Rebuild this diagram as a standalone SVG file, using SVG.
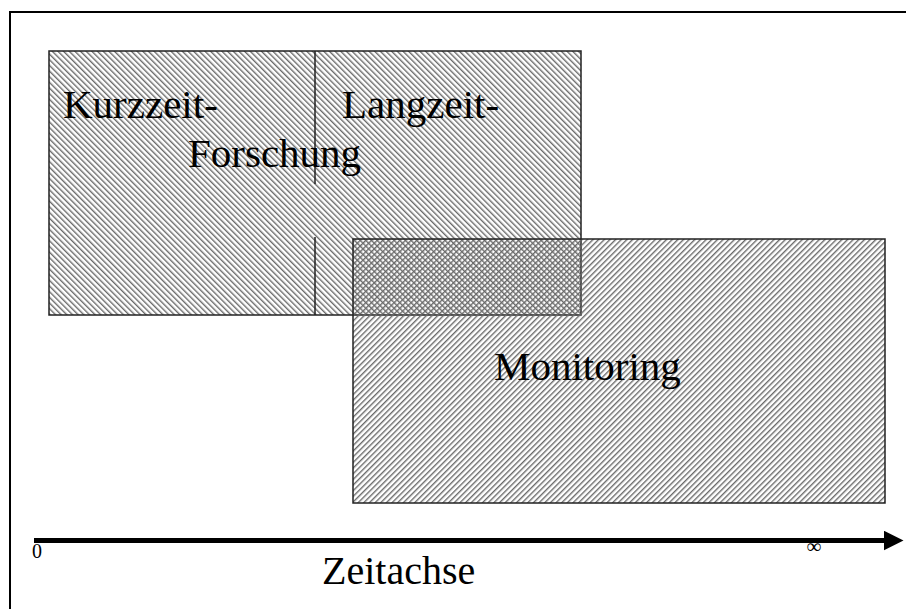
<svg xmlns="http://www.w3.org/2000/svg" width="906" height="609" viewBox="0 0 906 609">
  <defs>
    <pattern id="hatchBack" width="4" height="4" patternUnits="userSpaceOnUse" patternTransform="rotate(-45)">
      <rect x="0" y="0" width="1.4" height="4" fill="#6a6a6a"/>
    </pattern>
    <pattern id="hatchFwd" width="4" height="4" patternUnits="userSpaceOnUse" patternTransform="rotate(45)">
      <rect x="0" y="0" width="1.4" height="4" fill="#6a6a6a"/>
    </pattern>
    <marker id="arrow" markerWidth="4" markerHeight="4" refX="0.5" refY="2" orient="auto" markerUnits="strokeWidth">
      <path d="M0,0 L4,2 L0,4 Z" fill="#000"/>
    </marker>
  </defs>
  <style>
    .box { stroke: #222; stroke-width: 1.5; }
    .lbl { font-family: "Liberation Serif", "Times New Roman", serif; fill: #000; }
  </style>
  <rect x="0" y="0" width="906" height="609" fill="#fff"/>
  <g id="frame">
    <path d="M10,609 L10,12 L906,12" fill="none" stroke="#000" stroke-width="2"/>
  </g>
  <g id="forschung">
    <rect class="box" x="49" y="51" width="532" height="264" fill="url(#hatchBack)"/>
    <line x1="315" y1="51" x2="315" y2="184" stroke="#222" stroke-width="1.5"/>
    <line x1="315" y1="237" x2="315" y2="315" stroke="#222" stroke-width="1.5"/>
    <text class="lbl" x="63" y="118" font-size="41">Kurzzeit-</text>
    <text class="lbl" x="342" y="118" font-size="41">Langzeit-</text>
    <text class="lbl" x="188" y="167" font-size="41">Forschung</text>
  </g>
  <g id="monitoring">
    <rect class="box" x="353" y="239" width="532" height="264" fill="url(#hatchFwd)"/>
    <text class="lbl" x="494" y="380" font-size="41">Monitoring</text>
  </g>
  <g id="connectors">
    <line x1="34" y1="540.5" x2="886" y2="540.5" stroke="#000" stroke-width="5" marker-end="url(#arrow)"/>
  </g>
  <g id="axis-labels">
    <text class="lbl" x="32" y="558" font-size="20">0</text>
    <text class="lbl" x="807" y="553" font-size="20" font-weight="bold">∞</text>
    <text class="lbl" x="322" y="584" font-size="40">Zeitachse</text>
  </g>
</svg>
